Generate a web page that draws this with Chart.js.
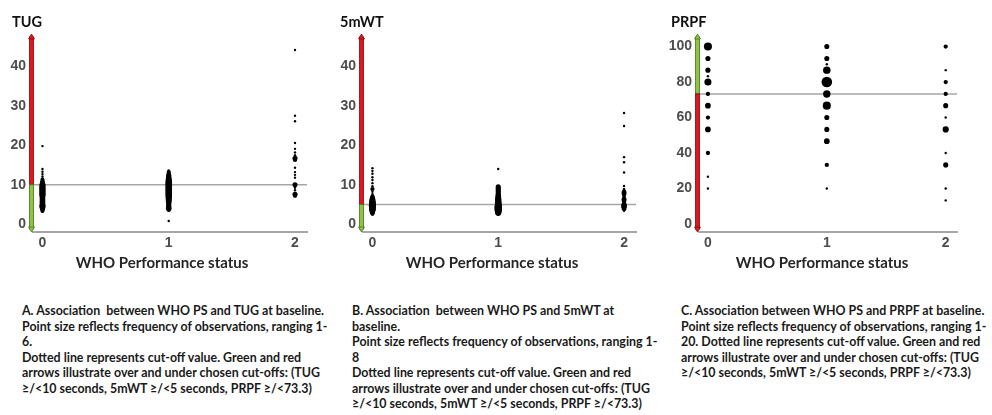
<!DOCTYPE html>
<html>
<head>
<meta charset="utf-8">
<script src="https://cdn.jsdelivr.net/npm/chart.js@4.4.0/dist/chart.umd.min.js"></script>
<style>
  body { margin: 0; background: #fff; width: 992px; height: 415px; position: relative; overflow: hidden; }
  canvas.panel { position: absolute; top: 0; }
  .ptitle { position: absolute; top: 13px; font: bold 14.5px Lato, sans-serif; line-height: 17px; color: #111; }
  .xtitle { position: absolute; top: 252px; width: 300px; text-align: center; font: bold 15px Lato, sans-serif; line-height: 20px; color: #262626; }
  .caption { position: absolute; top: 303px; font: bold 12.4px Lato, sans-serif; line-height: 15.5px; white-space: nowrap; color: #1a1a1a; }
</style>
</head>
<body>
<canvas id="tugChart" class="panel" width="330" height="280" style="left:0"></canvas>
<canvas id="walkChart" class="panel" width="330" height="280" style="left:330px"></canvas>
<canvas id="prpfChart" class="panel" width="332" height="280" style="left:660px"></canvas>

<div class="ptitle" style="left:12px">TUG</div>
<div class="ptitle" style="left:340px">5mWT</div>
<div class="ptitle" style="left:671px">PRPF</div>

<div class="xtitle" style="left:12px">WHO Performance status</div>
<div class="xtitle" style="left:342px">WHO Performance status</div>
<div class="xtitle" style="left:672px">WHO Performance status</div>

<div class="caption" style="left:22px">A. Association&nbsp; between WHO PS and TUG at baseline.<br>Point size reflects frequency of observations, ranging 1-<br>6.<br>Dotted line represents cut-off value. Green and red<br>arrows illustrate over and under chosen cut-offs: (TUG<br>≥/&lt;10 seconds, 5mWT ≥/&lt;5 seconds, PRPF ≥/&lt;73.3)</div>
<div class="caption" style="left:352px">B. Association&nbsp; between WHO PS and 5mWT at<br>baseline.<br>Point size reflects frequency of observations, ranging 1-<br>8<br>Dotted line represents cut-off value. Green and red<br>arrows illustrate over and under chosen cut-offs: (TUG<br>≥/&lt;10 seconds, 5mWT ≥/&lt;5 seconds, PRPF ≥/&lt;73.3)</div>
<div class="caption" style="left:681px">C. Association between WHO PS and PRPF at baseline.<br>Point size reflects frequency of observations, ranging 1-<br>20. Dotted line represents cut-off value. Green and red<br>arrows illustrate over and under chosen cut-offs: (TUG<br>≥/&lt;10 seconds, 5mWT ≥/&lt;5 seconds, PRPF ≥/&lt;73.3)</div>

<script>
// ── Data ──────────────────────────────────────────────────────────────────────
const PS_LABELS = ["0", "1", "2"];
const TIME_TICKS = [0, 10, 20, 30, 40];
const PRPF_TICKS = [0, 20, 40, 60, 80, 100];

const TUG_CUT = 10;
const WALK_CUT = 5;
const PRPF_CUT = 73.3;

// [value, frequency] per WHO PS group
const TUG_PS0 = [[19.8,1],[14.0,1],[13.3,1],[12.7,1],[12.1,1],[11.6,1],[11.2,2],[10.8,2],[10.4,3],[10.0,4],
  [9.7,5],[9.4,4],[9.1,5],[8.8,4],[8.5,5],[8.2,4],[7.9,5],[7.6,4],[7.3,5],[7.0,3],[6.7,4],[6.4,3],[6.1,4],
  [5.8,3],[5.5,4],[5.2,3],[4.9,4],[4.6,5],[4.3,4],[4.0,3],[3.7,2],[3.4,2],[3.1,1]];
const TUG_PS1 = [[13.6,1],[13.2,2],[12.8,2],[12.4,3],[12.0,3],[11.6,4],[11.2,5],[10.8,5],[10.4,6],[10.0,5],
  [9.6,6],[9.2,5],[8.8,6],[8.4,5],[8.0,6],[7.6,5],[7.2,6],[6.8,4],[6.4,5],[6.0,4],[5.6,4],[5.2,3],[4.8,3],
  [4.4,3],[4.0,4],[3.6,2],[0.8,1]];
const TUG_PS2 = [[44.2,1],[27.5,1],[26.1,1],[20.6,1],[19.1,1],[18.2,1],[17.5,1],[16.7,3],[16.3,2],[14.3,1],
  [13.2,1],[12.5,1],[11.8,1],[10.0,3],[9.2,1],[8.6,1],[7.6,3],[7.2,2]];

const WALK_PS0 = [[14.2,1],[13.5,1],[12.8,1],[11.9,1],[11.2,1],[10.4,1],[9.6,1],[8.9,2],[8.2,1],[7.6,1],
  [7.0,2],[6.6,3],[6.3,4],[6.0,4],[5.7,5],[5.4,6],[5.1,6],[4.8,7],[4.5,7],[4.2,6],[3.9,6],[3.6,5],[3.3,4],
  [3.0,3],[2.7,2],[2.4,1]];
const WALK_PS1 = [[14.0,1],[9.5,3],[9.1,3],[8.7,3],[8.3,3],[7.9,3],[7.5,3],[7.1,4],[6.7,4],[6.3,5],[5.9,5],
  [5.5,6],[5.1,6],[4.7,7],[4.3,8],[3.9,8],[3.5,7],[3.1,6],[2.8,4]];
const WALK_PS2 = [[28.2,1],[24.9,1],[17.0,1],[15.7,1],[13.1,1],[9.7,1],[8.9,1],[8.3,2],[7.9,3],[7.4,2],
  [6.6,2],[6.2,3],[5.6,2],[5.0,3],[4.6,4],[4.2,3],[3.8,2],[3.4,1]];

const PRPF_PS0 = [[100,10],[93.3,3],[86.7,3],[83.3,1],[80,7],[73.3,2],[66.7,4],[60,2],[53.3,4],[40,2],
  [26.7,1],[20,1]];
const PRPF_PS1 = [[100,3],[93.3,3],[90,1],[86.7,8],[80,20],[73.3,8],[66.7,10],[60,3],[53.3,3],[46.7,4],
  [33.3,2],[20,1]];
const PRPF_PS2 = [[100,2],[86.7,1],[80,2],[73.3,2],[66.7,3],[60,1],[53.3,5],[40,1],[33.3,3],[20,1],[13.3,1]];

// ── Helpers ───────────────────────────────────────────────────────────────────
const TICK_FONT = { family: "'Liberation Sans', Arial, sans-serif", size: 14, weight: "bold" };
const TICK_COLOR = "#4d4d4d";

const radius = n => 1.2 + 0.95 * Math.sqrt(n - 1);

const cutoffPlugin = {
  id: "cutoff",
  beforeDatasetsDraw(chart, args, opts) {
    const { ctx, chartArea: a, scales: { y } } = chart;
    const py = y.getPixelForValue(opts.value);
    ctx.save();
    ctx.strokeStyle = "#a6a6a6";
    ctx.lineWidth = 1.5;
    ctx.beginPath();
    ctx.moveTo(a.left, py);
    ctx.lineTo(a.right, py);
    ctx.stroke();
    ctx.restore();
  },
  afterDraw(chart, args, opts) {
    const { ctx, chartArea: a, scales: { y } } = chart;
    const py = y.getPixelForValue(opts.value);
    const x = a.left - 1.5;
    const top = a.top, bottom = a.bottom - 1;
    const red = { fill: "#e8141b", edge: "#7a0c0c" };
    const green = { fill: "#8cc63f", edge: "#4a7320" };
    const upper = opts.lowGood ? red : green;
    const lower = opts.lowGood ? green : red;

    const bar = (y0, y1, c) => {
      ctx.fillStyle = c.fill;
      ctx.strokeStyle = c.edge;
      ctx.lineWidth = 0.8;
      ctx.fillRect(x - 2, y0, 4, y1 - y0);
      ctx.strokeRect(x - 2, y0, 4, y1 - y0);
    };
    const head = (tipY, dir, c) => {
      ctx.fillStyle = c.fill;
      ctx.strokeStyle = c.edge;
      ctx.lineWidth = 0.8;
      ctx.beginPath();
      ctx.moveTo(x - 3, tipY + dir * 4);
      ctx.lineTo(x + 3, tipY + dir * 4);
      ctx.lineTo(x, tipY - dir);
      ctx.closePath();
      ctx.fill();
      ctx.stroke();
    };
    ctx.save();
    bar(top + 2, py, upper);
    head(top, 1, upper);
    bar(py, bottom - 2, lower);
    head(bottom, -1, lower);
    ctx.restore();
  }
};

function makeChart(id, groups, ticks, yMin, yMax, cut, lowGood, yWidth, padRight) {
  return new Chart(document.getElementById(id), {
    type: "bubble",
    data: {
      datasets: groups.map((rows, ps) => ({
        data: rows.map(([v, n]) => ({ x: ps, y: v, r: radius(n) })),
        backgroundColor: "#000",
        borderWidth: 0,
      })),
    },
    options: {
      responsive: false,
      animation: false,
      events: [],
      layout: { autoPadding: false, padding: { top: 35, right: padRight, left: 0, bottom: 0 } },
      plugins: {
        legend: { display: false },
        tooltip: { enabled: false },
        cutoff: { value: cut, lowGood },
      },
      scales: {
        x: {
          type: "linear",
          min: -0.075, max: 2.095,
          afterBuildTicks: s => { s.ticks = PS_LABELS.map((l, i) => ({ value: i })); },
          ticks: { callback: v => PS_LABELS[v], font: TICK_FONT, color: TICK_COLOR, padding: 3 },
          grid: { display: false, drawTicks: false },
          border: { color: "#a6a6a6", width: 2 },
          afterFit: s => { s.height = 48; },
        },
        y: {
          min: yMin, max: yMax,
          afterBuildTicks: s => { s.ticks = ticks.map(v => ({ value: v })); },
          ticks: { font: TICK_FONT, color: TICK_COLOR, padding: 7 },
          grid: { display: false, drawTicks: false },
          border: { display: false },
          afterFit: s => { s.width = yWidth; },
        },
      },
    },
    plugins: [cutoffPlugin],
  });
}

makeChart("tugChart",  [TUG_PS0, TUG_PS1, TUG_PS2],    TIME_TICKS, -2, 48, TUG_CUT, true, 33, 23);
makeChart("walkChart", [WALK_PS0, WALK_PS1, WALK_PS2], TIME_TICKS, -2, 48, WALK_CUT, true, 33, 24);
makeChart("prpfChart", [PRPF_PS0, PRPF_PS1, PRPF_PS2], PRPF_TICKS, -4.5, 106.5, PRPF_CUT, false, 39, 35);
</script>
</body>
</html>
